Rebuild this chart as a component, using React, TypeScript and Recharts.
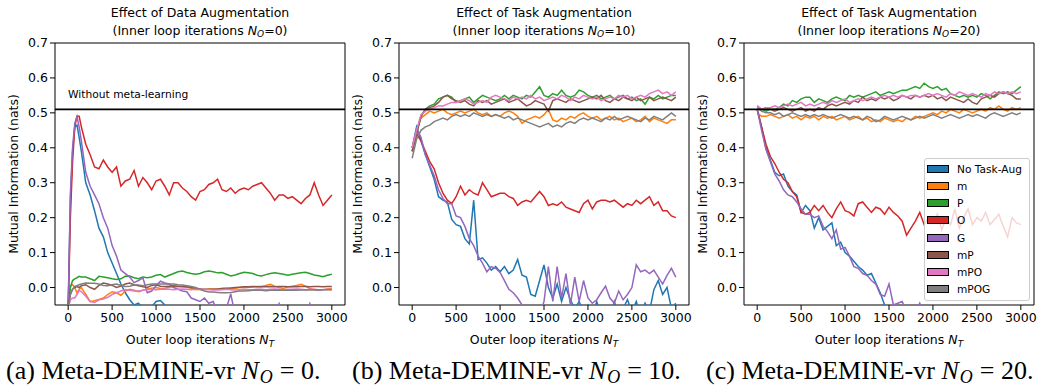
import React from 'react';
import { LineChart, Line, XAxis, YAxis, ReferenceLine, ReferenceArea, Legend } from 'recharts';

const SERIES = ['No Task-Aug', 'm', 'P', 'O', 'G', 'mP', 'mPO', 'mPOG'];
const COLORS = ['#1f77b4', '#ff7f0e', '#2ca02c', '#d62728', '#9467bd', '#8c564b', '#e377c2', '#7f7f7f'];
const X_TICKS = [0, 500, 1000, 1500, 2000, 2500, 3000];
const Y_TICKS = [0, 0.1, 0.2, 0.3, 0.4, 0.5, 0.6, 0.7];
const BASELINE = 0.51;

// ---------- Panel (a): N_O = 0 ----------
const aX = [0, 25, 50, 75, 100, 125, 150,
  200, 250, 300, 350, 400, 450, 500, 550, 600, 650,
  700, 750, 800, 850, 900, 950, 1000, 1050, 1100, 1150,
  1200, 1250, 1300, 1350, 1400, 1450, 1500, 1550, 1600, 1650,
  1700, 1750, 1800, 1850, 1900, 1950, 2000, 2050, 2100, 2150,
  2200, 2250, 2300, 2350, 2400, 2450, 2500, 2550, 2600, 2650,
  2700, 2750, 2800, 2850, 2900, 2950, 3000];

const aBlue = [-0.06, 0.25, 0.39, 0.46, 0.465, 0.43, 0.39,
  0.30, 0.265, 0.22, 0.17, 0.145, 0.10, 0.07, 0.04, 0.01, -0.015,
  -0.035, -0.05, -0.045, -0.06, -0.07, -0.055, -0.04, -0.037, -0.05, -0.07,
  -0.1];
const aOrange = [-0.05, 0.005, 0.008, 0.0, -0.015, -0.005, 0.0,
  -0.02, -0.04, -0.038, -0.034, -0.03, -0.02, -0.012, -0.015, -0.022, -0.01,
  -0.005, -0.008, -0.012, -0.008, -0.004, -0.002, 0.0, -0.003, -0.002, 0.001,
  0.002, 0.003, 0.002, 0.001, -0.002, -0.006, -0.005, -0.006, -0.004, -0.004,
  -0.005, -0.003, -0.003, -0.004, -0.002, 0.0, 0.001, 0.0, 0.002, 0.003,
  0.002, 0.006, 0.009, 0.004, 0.0, -0.003, 0.002, 0.003, 0.006, 0.009,
  0.004, -0.003, -0.006, -0.008, -0.006, -0.004, -0.003];
const aGreen = [-0.05, 0.0, 0.02, 0.025, 0.028, 0.032, 0.03,
  0.03, 0.025, 0.02, 0.032, 0.03, 0.028, 0.025, 0.023, 0.025, 0.032,
  0.033, 0.028, 0.025, 0.03, 0.028, 0.03, 0.035, 0.037, 0.03, 0.035,
  0.04, 0.045, 0.047, 0.043, 0.04, 0.038, 0.04, 0.045, 0.047, 0.045,
  0.042, 0.043, 0.038, 0.033, 0.036, 0.04, 0.044, 0.042, 0.04, 0.035,
  0.033, 0.037, 0.04, 0.042, 0.04, 0.038, 0.035, 0.038, 0.04, 0.042,
  0.044, 0.04, 0.036, 0.034, 0.031, 0.035, 0.038];
const aRed = [-0.06, 0.2, 0.36, 0.46, 0.49, 0.49, 0.46,
  0.41, 0.38, 0.345, 0.34, 0.365, 0.345, 0.33, 0.345, 0.29, 0.305,
  0.31, 0.335, 0.29, 0.315, 0.30, 0.28, 0.305, 0.31, 0.29, 0.265,
  0.30, 0.30, 0.285, 0.275, 0.26, 0.25, 0.275, 0.28, 0.295, 0.30,
  0.31, 0.28, 0.275, 0.285, 0.27, 0.28, 0.285, 0.28, 0.29, 0.295,
  0.30, 0.285, 0.27, 0.25, 0.265, 0.265, 0.255, 0.26, 0.25, 0.24,
  0.255, 0.265, 0.30, 0.265, 0.235, 0.25, 0.265];
const aPurple = [-0.06, 0.27, 0.40, 0.47, 0.49, 0.46, 0.42,
  0.33, 0.29, 0.265, 0.24, 0.20, 0.17, 0.12, 0.09, 0.05, 0.04,
  0.03, 0.014, 0.02, 0.028, -0.015, -0.01, 0.005, 0.018, 0.013, 0.01,
  0.0, -0.005, -0.01, -0.012, -0.03, -0.035, -0.04, -0.03, -0.045, -0.04,
  -0.07, -0.09, -0.06, -0.018, -0.08, -0.1, -0.1, -0.1, -0.1, -0.1,
  -0.1, -0.1, -0.1, -0.08, -0.046, -0.08, -0.1, -0.1, -0.1, -0.1,
  -0.08, -0.046, -0.08, -0.1];
const aBrown = [-0.05, -0.02, -0.005, 0.0, 0.003, 0.0, 0.005,
  0.008, 0.0, -0.005, 0.006, 0.013, 0.01, 0.006, 0.0, 0.004, 0.01,
  0.013, 0.008, 0.005, 0.002, 0.0, 0.006, 0.008, 0.004, 0.003, 0.004,
  0.005, 0.004, 0.003, 0.002, 0.0, -0.003, -0.004, -0.005, -0.005, -0.005,
  -0.004, -0.003, -0.002, -0.001, 0.0, 0.001, 0.002, 0.002, 0.003, 0.002,
  0.003, 0.002, 0.003, 0.002, 0.003, 0.003, 0.002, 0.003, 0.002, 0.003,
  0.003, 0.002, 0.003, 0.003, 0.002, 0.003, 0.003];
const aPink = [-0.06, -0.035, -0.03, -0.03, -0.02, -0.008, -0.012,
  -0.025, -0.04, -0.043, -0.035, -0.033, -0.028, -0.02, -0.015, -0.01, -0.006,
  -0.008, -0.01, -0.01, -0.008, -0.006, -0.005, -0.006, -0.005, -0.004, -0.005,
  -0.006, -0.005, -0.004, -0.005, -0.006, -0.005, -0.004, -0.005, -0.006, -0.007,
  -0.007, -0.006, -0.005, -0.006, -0.007, -0.006, -0.005, -0.006, -0.006, -0.005,
  -0.005, -0.006, -0.005, -0.004, -0.005, -0.006, -0.005, -0.005, -0.004, -0.005,
  -0.006, -0.005, -0.005, -0.006, -0.006, -0.005, -0.006];
const aGray = [-0.06, -0.02, -0.005, 0.003, 0.005, 0.008, 0.01,
  0.013, 0.012, 0.012, 0.01, 0.006, 0.005, 0.008, 0.01, 0.006, 0.003,
  0.004, 0.007, 0.007, 0.005, 0.008, 0.01, 0.01, 0.01, 0.01, 0.01,
  0.01, 0.008, 0.007, 0.005, 0.003, 0.0, -0.005, -0.01, -0.013, -0.013,
  -0.014, -0.015, -0.015, -0.014, -0.012, -0.01, -0.01, -0.009, -0.008, -0.008,
  -0.008, -0.009, -0.008, -0.008, -0.007, -0.008, -0.008, -0.007, -0.008, -0.007,
  -0.007, -0.007, -0.006, -0.007, -0.006, -0.006, -0.006];

// ---------- Panels (b) and (c): shared x grid ----------
const bX = [0, 50, 100, 150, 200, 250, 300, 350, 400, 450,
  500, 550, 600, 650, 700, 750, 800, 850, 900, 950,
  1000, 1050, 1100, 1150, 1200, 1250, 1300, 1350, 1400, 1450,
  1500, 1550, 1600, 1650, 1700, 1750, 1800, 1850, 1900, 1950,
  2000, 2050, 2100, 2150, 2200, 2250, 2300, 2350, 2400, 2450,
  2500, 2550, 2600, 2650, 2700, 2750, 2800, 2850, 2900, 2950,
  3000];

// Panel (b): N_O = 10
const bBlue = [0.40, 0.46, 0.42, 0.38, 0.345, 0.31, 0.26, 0.25, 0.245, 0.195,
  0.18, 0.175, 0.14, 0.125, 0.25, 0.08, 0.085, 0.07, 0.05, 0.06,
  0.045, 0.06, 0.04, 0.05, 0.08, 0.035, 0.03, -0.02, -0.025, 0.02,
  0.065, 0.0, -0.03, 0.01, -0.04, 0.0, -0.035, -0.06, -0.04, -0.07,
  -0.05, -0.08, -0.04, -0.08, -0.06, -0.09, -0.04, -0.08, -0.06, -0.035,
  -0.07, -0.04, -0.08, -0.045, -0.07, -0.006, 0.02, -0.02, 0.0, -0.06,
  -0.045];
const bOrange = [0.39, 0.45, 0.485, 0.495, 0.505, 0.50, 0.505, 0.51, 0.50, 0.495,
  0.50, 0.505, 0.50, 0.505, 0.51, 0.50, 0.495, 0.50, 0.49, 0.495,
  0.49, 0.50, 0.505, 0.50, 0.49, 0.47, 0.48, 0.485, 0.49, 0.485,
  0.495, 0.51, 0.48, 0.475, 0.485, 0.48, 0.49, 0.485, 0.495, 0.50,
  0.49, 0.485, 0.49, 0.48, 0.485, 0.49, 0.48, 0.485, 0.475, 0.48,
  0.485, 0.475, 0.48, 0.49, 0.475, 0.485, 0.48, 0.475, 0.47, 0.48,
  0.48];
const bGreen = [0.40, 0.44, 0.49, 0.51, 0.52, 0.525, 0.54, 0.545, 0.55, 0.545,
  0.53, 0.535, 0.54, 0.545, 0.53, 0.54, 0.55, 0.545, 0.54, 0.535,
  0.54, 0.55, 0.54, 0.55, 0.545, 0.54, 0.55, 0.545, 0.56, 0.575,
  0.55, 0.545, 0.555, 0.55, 0.565, 0.55, 0.545, 0.55, 0.565, 0.56,
  0.55, 0.545, 0.55, 0.54, 0.545, 0.55, 0.54, 0.545, 0.55, 0.54,
  0.545, 0.535, 0.54, 0.525, 0.545, 0.54, 0.55, 0.54, 0.545, 0.55,
  0.55];
const bRed = [0.39, 0.44, 0.42, 0.39, 0.36, 0.34, 0.30, 0.27, 0.25, 0.24,
  0.26, 0.29, 0.265, 0.28, 0.27, 0.265, 0.30, 0.28, 0.26, 0.265,
  0.27, 0.27, 0.26, 0.255, 0.235, 0.245, 0.25, 0.245, 0.26, 0.275,
  0.26, 0.235, 0.24, 0.235, 0.245, 0.23, 0.225, 0.22, 0.215, 0.24,
  0.25, 0.225, 0.245, 0.25, 0.25, 0.245, 0.25, 0.24, 0.23, 0.24,
  0.235, 0.25, 0.24, 0.25, 0.26, 0.235, 0.245, 0.22, 0.22, 0.205,
  0.20];
const bPurple = [0.40, 0.455, 0.43, 0.38, 0.35, 0.32, 0.28, 0.255, 0.24, 0.24,
  0.205, 0.20, 0.175, 0.14, 0.12, 0.09, 0.07, 0.045, 0.06, 0.055,
  0.043, 0.02, -0.005, -0.015, -0.03, -0.05, -0.06, -0.07, -0.06, -0.08,
  -0.04, 0.06, -0.04, 0.06, -0.03, 0.04, -0.05, 0.03, -0.04, 0.02,
  -0.03, -0.045, -0.035, -0.015, 0.004, -0.03, -0.045, -0.01, -0.035, -0.02,
  0.0, 0.065, 0.045, 0.05, 0.04, 0.05, 0.03, 0.01, 0.035, 0.055,
  0.03];
const bBrown = [0.39, 0.44, 0.49, 0.51, 0.515, 0.52, 0.53, 0.545, 0.55, 0.54,
  0.535, 0.53, 0.535, 0.525, 0.52, 0.535, 0.53, 0.535, 0.525, 0.53,
  0.535, 0.54, 0.53, 0.535, 0.54, 0.53, 0.52, 0.525, 0.535, 0.53,
  0.525, 0.505, 0.535, 0.54, 0.535, 0.53, 0.54, 0.535, 0.53, 0.535,
  0.54, 0.545, 0.54, 0.55, 0.535, 0.53, 0.54, 0.535, 0.545, 0.54,
  0.535, 0.545, 0.535, 0.54, 0.545, 0.535, 0.54, 0.545, 0.54, 0.535,
  0.545];
const bPink = [0.40, 0.45, 0.495, 0.505, 0.51, 0.515, 0.52, 0.52, 0.525, 0.53,
  0.53, 0.535, 0.54, 0.535, 0.525, 0.53, 0.535, 0.53, 0.545, 0.55,
  0.545, 0.54, 0.535, 0.545, 0.54, 0.545, 0.54, 0.55, 0.54, 0.545,
  0.535, 0.54, 0.545, 0.54, 0.55, 0.545, 0.535, 0.545, 0.54, 0.55,
  0.545, 0.54, 0.545, 0.535, 0.54, 0.545, 0.54, 0.55, 0.545, 0.55,
  0.54, 0.545, 0.55, 0.545, 0.555, 0.56, 0.565, 0.555, 0.56, 0.55,
  0.56];
const bGray = [0.37, 0.425, 0.45, 0.46, 0.465, 0.475, 0.48, 0.485, 0.48, 0.49,
  0.495, 0.49, 0.495, 0.49, 0.50, 0.495, 0.49, 0.495, 0.49, 0.495,
  0.49, 0.485, 0.49, 0.48, 0.485, 0.48, 0.475, 0.47, 0.465, 0.46,
  0.465, 0.47, 0.46, 0.465, 0.46, 0.47, 0.475, 0.47, 0.48, 0.485,
  0.48, 0.485, 0.48, 0.475, 0.485, 0.48, 0.49, 0.48, 0.485, 0.49,
  0.485, 0.48, 0.475, 0.485, 0.48, 0.49, 0.485, 0.48, 0.49, 0.50,
  0.49];

// Panel (c): N_O = 20
const cBlue = [0.51, 0.46, 0.40, 0.365, 0.33, 0.32, 0.325, 0.29, 0.275, 0.265,
  0.215, 0.235, 0.22, 0.17, 0.20, 0.165, 0.175, 0.185, 0.12, 0.13,
  0.10, 0.09, 0.075, 0.06, 0.05, 0.035, 0.04, 0.013, -0.015, -0.05,
  -0.08, -0.1];
const cOrange = [0.50, 0.49, 0.49, 0.495, 0.49, 0.485, 0.49, 0.495, 0.485, 0.49,
  0.48, 0.49, 0.485, 0.49, 0.48, 0.49, 0.485, 0.49, 0.48, 0.485,
  0.49, 0.48, 0.485, 0.49, 0.48, 0.485, 0.475, 0.48, 0.475, 0.485,
  0.48, 0.475, 0.48, 0.475, 0.485, 0.48, 0.49, 0.485, 0.49, 0.495,
  0.50, 0.495, 0.505, 0.50, 0.51, 0.505, 0.50, 0.51, 0.505, 0.50,
  0.505, 0.51, 0.505, 0.515, 0.51, 0.52, 0.51, 0.505, 0.515, 0.51,
  0.515];
const cGreen = [0.51, 0.51, 0.505, 0.51, 0.51, 0.515, 0.525, 0.52, 0.535, 0.53,
  0.54, 0.545, 0.545, 0.53, 0.54, 0.535, 0.53, 0.54, 0.545, 0.54,
  0.535, 0.55, 0.545, 0.55, 0.545, 0.55, 0.555, 0.56, 0.55, 0.555,
  0.56, 0.555, 0.56, 0.565, 0.565, 0.57, 0.575, 0.57, 0.585, 0.575,
  0.57, 0.575, 0.565, 0.57, 0.555, 0.55, 0.545, 0.55, 0.545, 0.55,
  0.545, 0.555, 0.55, 0.54, 0.55, 0.56, 0.555, 0.56, 0.555, 0.565,
  0.575];
const cRed = [0.51, 0.46, 0.41, 0.375, 0.355, 0.33, 0.31, 0.30, 0.275, 0.26,
  0.215, 0.21, 0.215, 0.235, 0.22, 0.235, 0.215, 0.20, 0.225, 0.245,
  0.22, 0.215, 0.205, 0.24, 0.245, 0.23, 0.215, 0.23, 0.225, 0.21,
  0.23, 0.215, 0.205, 0.19, 0.15, 0.17, 0.19, 0.215, 0.18, 0.20,
  0.185, 0.21, 0.165, 0.20, 0.18, 0.225, 0.17, 0.20, 0.225, 0.18,
  0.20, 0.19, 0.215, 0.18, 0.195, 0.21, 0.175, 0.145, 0.20, 0.185,
  0.18];
const cPurple = [0.51, 0.45, 0.395, 0.36, 0.325, 0.305, 0.28, 0.265, 0.26, 0.245,
  0.225, 0.21, 0.21, 0.20, 0.205, 0.175, 0.16, 0.14, 0.165, 0.11,
  0.115, 0.09, 0.06, 0.055, 0.04, 0.035, 0.02, 0.01, -0.02, -0.025,
  0.01, -0.05, -0.045, -0.04, -0.07, -0.08, -0.07, -0.045, -0.08, -0.1];
const cBrown = [0.52, 0.51, 0.515, 0.51, 0.505, 0.51, 0.515, 0.51, 0.505, 0.51,
  0.515, 0.505, 0.51, 0.505, 0.515, 0.51, 0.52, 0.525, 0.52, 0.525,
  0.53, 0.525, 0.535, 0.53, 0.545, 0.535, 0.54, 0.535, 0.545, 0.54,
  0.545, 0.535, 0.54, 0.55, 0.545, 0.54, 0.55, 0.545, 0.55, 0.545,
  0.55, 0.54, 0.545, 0.535, 0.545, 0.54, 0.535, 0.53, 0.54, 0.53,
  0.525, 0.54, 0.545, 0.55, 0.545, 0.555, 0.56, 0.555, 0.55, 0.54,
  0.54];
const cPink = [0.52, 0.51, 0.515, 0.515, 0.52, 0.515, 0.52, 0.525, 0.52, 0.525,
  0.53, 0.52, 0.525, 0.52, 0.525, 0.53, 0.525, 0.535, 0.53, 0.535,
  0.54, 0.53, 0.535, 0.54, 0.535, 0.54, 0.545, 0.54, 0.545, 0.55,
  0.545, 0.55, 0.545, 0.55, 0.545, 0.55, 0.55, 0.545, 0.55, 0.555,
  0.55, 0.555, 0.55, 0.545, 0.555, 0.55, 0.56, 0.555, 0.55, 0.555,
  0.55, 0.545, 0.555, 0.55, 0.56, 0.555, 0.56, 0.555, 0.56, 0.555,
  0.56];
const cGray = [0.515, 0.505, 0.50, 0.50, 0.495, 0.50, 0.49, 0.495, 0.50, 0.495,
  0.49, 0.495, 0.49, 0.495, 0.49, 0.495, 0.49, 0.485, 0.49, 0.495,
  0.49, 0.485, 0.49, 0.485, 0.48, 0.49, 0.485, 0.475, 0.48, 0.49,
  0.485, 0.48, 0.485, 0.49, 0.485, 0.48, 0.485, 0.49, 0.485, 0.49,
  0.495, 0.49, 0.485, 0.49, 0.495, 0.49, 0.485, 0.49, 0.495, 0.49,
  0.495, 0.49, 0.485, 0.495, 0.50, 0.495, 0.49, 0.495, 0.50, 0.495,
  0.50];

function buildRows(xs: number[], cols: number[][]) {
  return xs.map((x, i) => {
    const row: Record<string, number | null> = { x };
    SERIES.forEach((name, j) => {
      const v = cols[j][i];
      row[name] = v === undefined ? null : v;
    });
    return row;
  });
}

const dataA = buildRows(aX, [aBlue, aOrange, aGreen, aRed, aPurple, aBrown, aPink, aGray]);
const dataB = buildRows(bX, [bBlue, bOrange, bGreen, bRed, bPurple, bBrown, bPink, bGray]);
const dataC = buildRows(bX, [cBlue, cOrange, cGreen, cRed, cPurple, cBrown, cPink, cGray]);

const TICK_STYLE = { fill: '#000', fontSize: 12.5, fontFamily: 'DejaVu Sans' };
const CHART_W = 350;
const CHART_H = 340;

function LegendBox(props: any) {
  const payload: any[] = props.payload || [];
  const colorOf = (name: string, i: number) => {
    const hit = payload.find((p: any) => p.value === name);
    return hit && hit.color ? hit.color : COLORS[i];
  };
  return (
    <div style={{
      width: 106, height: 143, boxSizing: 'border-box', border: '1px solid #cccccc', borderRadius: 3,
      background: 'rgba(255,255,255,0.8)', position: 'relative', fontFamily: 'DejaVu Sans', fontSize: 10.6, color: '#000',
    }}>
      {SERIES.map((name, i) => (
        <div key={name} style={{ position: 'absolute', left: 2, top: 1.5 + i * 17.14, height: 17.14, display: 'flex', alignItems: 'center', whiteSpace: 'nowrap' }}>
          <div style={{ width: 22, height: 8, boxSizing: 'border-box', border: '1px solid #000', background: colorOf(name, i) }} />
          <span style={{ marginLeft: 8, lineHeight: '12px' }}>{name}</span>
        </div>
      ))}
    </div>
  );
}

function Panel({ data, left, legend }: { data: any[]; left: number; legend?: boolean }) {
  return (
    <div style={{ position: 'absolute', left, top: 0, width: CHART_W, height: CHART_H }}>
      <LineChart width={CHART_W} height={CHART_H} data={data} margin={{ top: 43, right: 5, bottom: 5, left: 10 }}>
        <XAxis dataKey="x" type="number" domain={[-150, 3150]} ticks={X_TICKS} interval={0} allowDataOverflow
          axisLine={false} tickLine={{ stroke: '#000' }} tickSize={5} tickMargin={3} height={30} tick={TICK_STYLE} />
        <YAxis type="number" domain={[-0.05, 0.7]} ticks={Y_TICKS} interval={0} allowDataOverflow width={45}
          axisLine={false} tickLine={{ stroke: '#000' }} tickSize={5} tickMargin={2} tick={TICK_STYLE}
          tickFormatter={(v: number) => v.toFixed(1)} />
        <ReferenceArea x1={-150} x2={3150} y1={-0.05} y2={0.7} fill="none" fillOpacity={0} stroke="#000" strokeWidth={1} ifOverflow="visible" />
        {SERIES.map((name, i) => (
          <Line key={name} name={name} dataKey={name} type="linear" stroke={COLORS[i]} strokeWidth={1.5}
            dot={false} activeDot={false} isAnimationActive={false} />
        ))}
        <ReferenceLine y={BASELINE} stroke="#000" strokeWidth={1.6} />
        {legend && (
          <Legend layout="vertical" align="center" verticalAlign="middle"
            wrapperStyle={{ left: 924 - left, top: 158, width: 106, height: 143 }}
            content={(p: any) => <LegendBox payload={p.payload} />} />
        )}
      </LineChart>
    </div>
  );
}

const PANELS = [
  { left: 0, cx: 200, title: 'Effect of Data Augmentation', no: '0', cap: 'a', capX: 6 },
  { left: 344, cx: 544, title: 'Effect of Task Augmentation', no: '10', cap: 'b', capX: 352 },
  { left: 689, cx: 889, title: 'Effect of Task Augmentation', no: '20', cap: 'c', capX: 706 },
];

export default function App() {
  return (
    <div style={{ position: 'absolute', left: 0, top: 0, width: 1038, height: 388, overflow: 'hidden', background: '#fff' }}>
      <svg width={1038} height={388} style={{ position: 'absolute', left: 0, top: 0 }}>
        {PANELS.map((p) => (
          <g key={p.cap} fontFamily="DejaVu Sans" fill="#000">
            <text x={p.cx} y={16.5} textAnchor="middle" fontSize={12.5}>{p.title}</text>
            <text x={p.cx} y={34.5} textAnchor="middle" fontSize={12.5}>
              (Inner loop iterations <tspan fontStyle="italic">N</tspan>
              <tspan fontStyle="italic" fontSize={9} dy={2.5}>O</tspan>
              <tspan dy={-2.5}>={p.no})</tspan>
            </text>
            <text x={p.cx} y={344} textAnchor="middle" fontSize={12.5}>
              Outer loop iterations <tspan fontStyle="italic">N</tspan>
              <tspan fontStyle="italic" fontSize={9} dy={2.5}>T</tspan>
            </text>
            <text x={p.left + 17.5} y={174} textAnchor="middle" fontSize={12.5}
              transform={`rotate(-90, ${p.left + 17.5}, 174)`}>Mutual Information (nats)</text>
            <text x={p.capX} y={379} fontFamily="Liberation Serif" fontSize={26}>
              ({p.cap}) Meta-DEMINE-vr <tspan fontStyle="italic">N</tspan>
              <tspan fontStyle="italic" fontSize={18} dx={1} dy={4}>O</tspan>
              <tspan dx={7} dy={-4}>= {p.no}.</tspan>
            </text>
          </g>
        ))}
        <text x={68} y={97.5} fontFamily="DejaVu Sans" fontSize={10.7} fill="#000">Without meta-learning</text>
      </svg>
      <Panel data={dataA} left={PANELS[0].left} />
      <Panel data={dataB} left={PANELS[1].left} />
      <Panel data={dataC} left={PANELS[2].left} legend />
    </div>
  );
}
